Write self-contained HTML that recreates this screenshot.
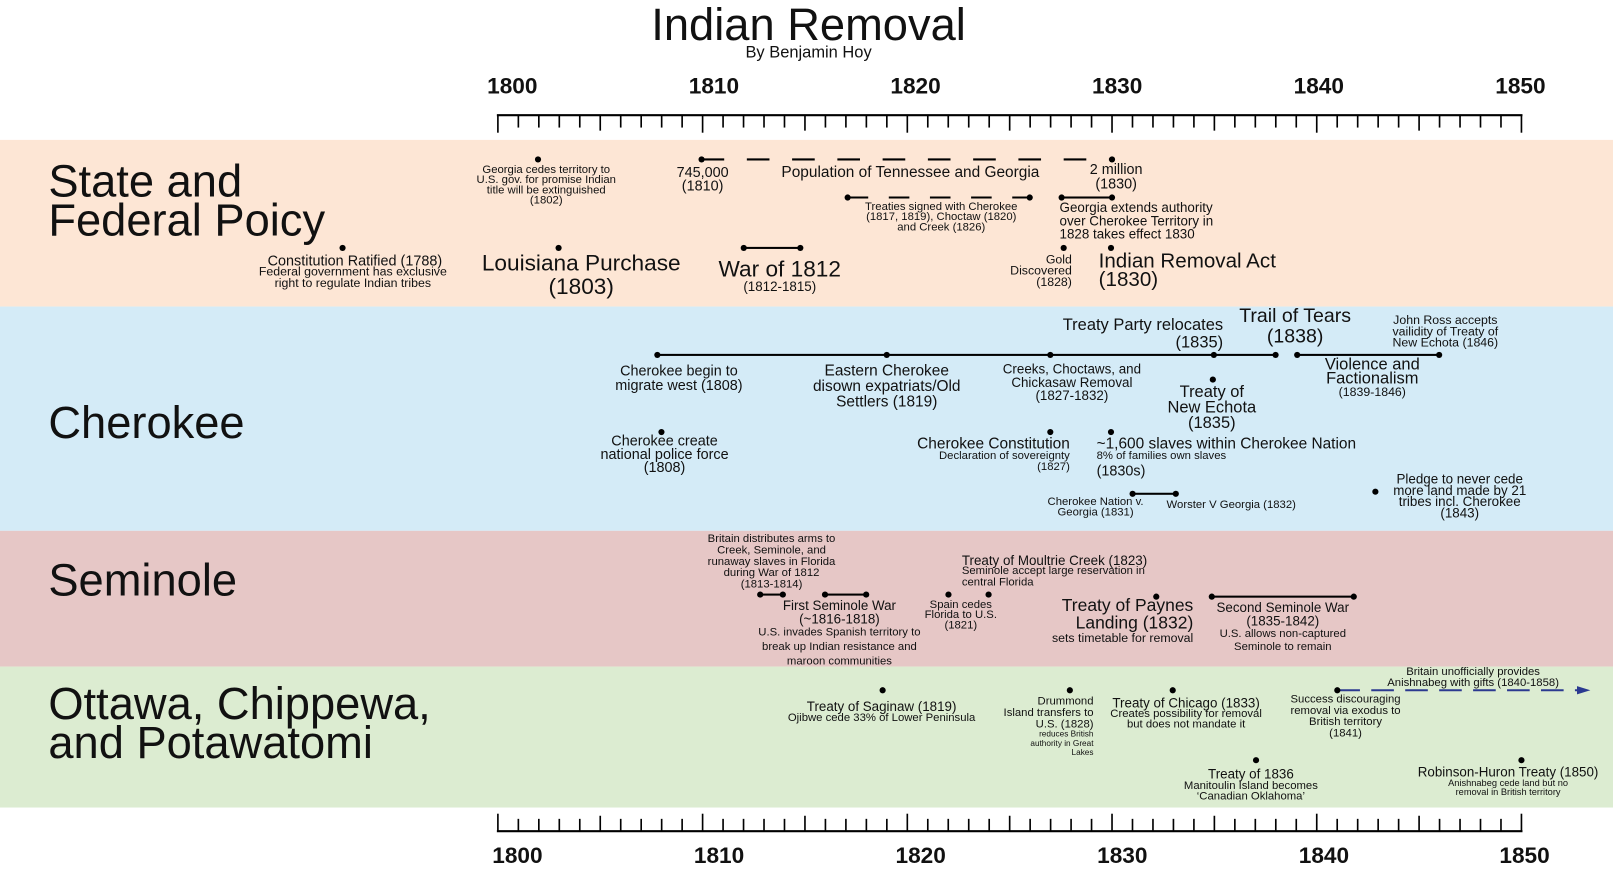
<!DOCTYPE html>
<html><head><meta charset="utf-8"><style>
html,body{margin:0;padding:0;width:1613px;height:873px;overflow:hidden;background:#fff}
#w{position:absolute;left:0;top:0;width:1568px;height:848px;transform:scale(1.02870);transform-origin:0 0;font-family:"Liberation Sans Narrow","Liberation Sans",sans-serif;color:#111}
.b{position:absolute;left:0;width:1568px}
.t{position:absolute;white-space:nowrap;line-height:1}
.c{transform:translateX(-50%);text-align:center}
.r{transform:translateX(-100%);text-align:right}
.h{font-family:"Liberation Sans",sans-serif;font-size:44px;line-height:38px;left:47px}
.d{position:absolute;width:6px;height:6px;border-radius:50%;background:#000;margin:-3px 0 0 -3px}
.ln{position:absolute;height:2px;background:#000;margin-top:-1px}
.yr{font-family:"Liberation Sans",sans-serif;font-weight:bold;font-size:22px}
</style></head><body><div id="w">
<div class="b" style="top:136px;height:162px;background:#fde6d5"></div>
<div class="b" style="top:298px;height:218px;background:#d4ebf7"></div>
<div class="b" style="top:516px;height:132px;background:#e6c7c6"></div>
<div class="b" style="top:648px;height:137px;background:#dcecd1"></div>

<div class="t c" style="left:786px;top:3px;font-family:'Liberation Sans',sans-serif;font-size:44px">Indian Removal</div>
<div class="t c" style="left:786px;top:44px;font-size:16px">By Benjamin Hoy</div>

<svg id="ax" width="1568" height="848" style="position:absolute;left:0;top:0"></svg>

<div class="t h" style="top:158px">State and<br>Federal Poicy</div>
<div class="t h" style="top:393px">Cherokee</div>
<div class="t h" style="top:546px">Seminole</div>
<div class="t h" style="top:666px">Ottawa, Chippewa,<br>and Potawatomi</div>

<!-- State -->
<div class="d" style="left:333px;top:241px"></div>
<div class="t c" style="left:345px;top:246px;font-size:14px">Constitution Ratified (1788)</div>
<div class="t c" style="left:343px;top:259px;font-size:12px;line-height:11px">Federal government has exclusive<br>right to regulate Indian tribes</div>
<div class="d" style="left:523px;top:155px"></div>
<div class="t c" style="left:531px;top:160px;font-size:11px;line-height:10px">Georgia cedes territory to<br>U.S. gov. for promise Indian<br>title will be extinguished<br>(1802)</div>
<svg width="1568" height="300" style="position:absolute;left:0;top:0">
<line x1="682" y1="155" x2="1081" y2="155" stroke="#000" stroke-width="2" stroke-dasharray="22,22"/>
<line x1="824" y1="192" x2="1001" y2="192" stroke="#000" stroke-width="2" stroke-dasharray="20,20"/>
</svg>
<div class="d" style="left:682px;top:155px"></div><div class="d" style="left:1081px;top:155px"></div>
<div class="t c" style="left:683px;top:161px;font-size:14px;line-height:13px">745,000<br>(1810)</div>
<div class="t c" style="left:885px;top:160px;font-size:15px">Population of Tennessee and Georgia</div>
<div class="t c" style="left:1085px;top:157px;font-size:14px;line-height:14px">2 million<br>(1830)</div>
<div class="d" style="left:824px;top:192px"></div><div class="d" style="left:1001px;top:192px"></div>
<div class="t c" style="left:915px;top:196px;font-size:11px;line-height:10px">Treaties signed with Cherokee<br>(1817, 1819), Choctaw (1820)<br>and Creek (1826)</div>
<div class="ln" style="left:1032px;top:192px;width:49px"></div>
<div class="d" style="left:1032px;top:192px"></div><div class="d" style="left:1081px;top:192px"></div>
<div class="t" style="left:1030px;top:195px;font-size:13px;line-height:13px">Georgia extends authority<br>over Cherokee Territory in<br>1828 takes effect 1830</div>
<div class="d" style="left:543px;top:241px"></div>
<div class="t c" style="left:565px;top:244px;font-size:22px;line-height:23px">Louisiana Purchase<br>(1803)</div>
<div class="ln" style="left:723px;top:241px;width:55px"></div>
<div class="d" style="left:723px;top:241px"></div><div class="d" style="left:778px;top:241px"></div>
<div class="t c" style="left:758px;top:251px;font-size:22px">War of 1812</div>
<div class="t c" style="left:758px;top:272px;font-size:13px">(1812-1815)</div>
<div class="d" style="left:1034px;top:241px"></div>
<div class="t r" style="left:1042px;top:247px;font-size:12px;line-height:11px">Gold<br>Discovered<br>(1828)</div>
<div class="d" style="left:1080px;top:241px"></div>
<div class="t" style="left:1068px;top:245px;font-size:20px;line-height:18px">Indian Removal Act<br>(1830)</div>

<!-- Cherokee -->
<div class="ln" style="left:639px;top:345px;width:601px"></div>
<div class="ln" style="left:1261px;top:345px;width:138px"></div>
<div class="d" style="left:639px;top:345px"></div><div class="d" style="left:862px;top:345px"></div><div class="d" style="left:1021px;top:345px"></div><div class="d" style="left:1180px;top:345px"></div><div class="d" style="left:1240px;top:345px"></div><div class="d" style="left:1261px;top:345px"></div><div class="d" style="left:1399px;top:345px"></div>
<div class="t r" style="left:1189px;top:308px;font-size:16px;line-height:17px">Treaty Party relocates<br>(1835)</div>
<div class="t c" style="left:1259px;top:298px;font-size:19px;line-height:20px">Trail of Tears<br>(1838)</div>
<div class="t c" style="left:1405px;top:306px;font-size:12px;line-height:11px">John Ross accepts<br>vailidity of Treaty of<br>New Echota (1846)</div>
<div class="t c" style="left:660px;top:353px;font-size:14px;line-height:14px">Cherokee begin to<br>migrate west (1808)</div>
<div class="t c" style="left:862px;top:353px;font-size:15px;line-height:15px">Eastern Cherokee<br>disown expatriats/Old<br>Settlers (1819)</div>
<div class="t c" style="left:1042px;top:352px;font-size:13px;line-height:13px">Creeks, Choctaws, and<br>Chickasaw Removal<br>(1827-1832)</div>
<div class="d" style="left:1179px;top:369px"></div>
<div class="t c" style="left:1178px;top:374px;font-size:16px;line-height:15px">Treaty of<br>New Echota<br>(1835)</div>
<div class="t c" style="left:1334px;top:348px;font-size:16px;line-height:14px">Violence and<br>Factionalism</div>
<div class="t c" style="left:1334px;top:375px;font-size:12px">(1839-1846)</div>
<div class="d" style="left:643px;top:420px"></div>
<div class="t c" style="left:646px;top:422px;font-size:14px;line-height:13px">Cherokee create<br>national police force<br>(1808)</div>
<div class="d" style="left:1021px;top:420px"></div>
<div class="t r" style="left:1040px;top:424px;font-size:15px">Cherokee Constitution</div>
<div class="t r" style="left:1040px;top:438px;font-size:11px;line-height:11px">Declaration of sovereignty<br>(1827)</div>
<div class="d" style="left:1080px;top:420px"></div>
<div class="t" style="left:1066px;top:424px;font-size:15px">~1,600 slaves within Cherokee Nation</div>
<div class="t" style="left:1066px;top:438px;font-size:11px">8% of families own slaves</div>
<div class="t" style="left:1066px;top:450px;font-size:14px">(1830s)</div>
<div class="ln" style="left:1101px;top:480px;width:42px"></div>
<div class="d" style="left:1101px;top:480px"></div><div class="d" style="left:1143px;top:480px"></div>
<div class="t c" style="left:1065px;top:483px;font-size:11px;line-height:10px">Cherokee Nation v.<br>Georgia (1831)</div>
<div class="t" style="left:1134px;top:486px;font-size:11px">Worster V Georgia (1832)</div>
<div class="d" style="left:1337px;top:478px"></div>
<div class="t c" style="left:1419px;top:460px;font-size:13px;line-height:11px">Pledge to never cede<br>more land made by 21<br>tribes incl. Cherokee<br>(1843)</div>

<!-- Seminole -->
<div class="t c" style="left:750px;top:519px;font-size:11px;line-height:11px">Britain distributes arms to<br>Creek, Seminole, and<br>runaway slaves in Florida<br>during War of 1812<br>(1813-1814)</div>
<div class="ln" style="left:739px;top:578px;width:22px"></div>
<div class="d" style="left:739px;top:578px"></div><div class="d" style="left:761px;top:578px"></div>
<div class="ln" style="left:802px;top:578px;width:40px"></div>
<div class="d" style="left:802px;top:578px"></div><div class="d" style="left:842px;top:578px"></div>
<div class="t c" style="left:816px;top:582px;font-size:13px;line-height:13px">First Seminole War<br>(~1816-1818)</div>
<div class="t c" style="left:816px;top:608px;font-size:11px;line-height:14px">U.S. invades Spanish territory to<br>break up Indian resistance and<br>maroon communities</div>
<div class="t" style="left:935px;top:538px;font-size:13px">Treaty of Moultrie Creek (1823)</div>
<div class="t" style="left:935px;top:550px;font-size:11px;line-height:11px">Seminole accept large reservation in<br>central Florida</div>
<div class="d" style="left:922px;top:578px"></div><div class="d" style="left:961px;top:578px"></div>
<div class="t c" style="left:934px;top:583px;font-size:11px;line-height:10px">Spain cedes<br>Florida to U.S.<br>(1821)</div>
<div class="d" style="left:1124px;top:580px"></div>
<div class="t r" style="left:1160px;top:580px;font-size:17px;line-height:17px">Treaty of Paynes<br>Landing (1832)</div>
<div class="t r" style="left:1160px;top:614px;font-size:12px">sets timetable for removal</div>
<div class="ln" style="left:1178px;top:580px;width:138px"></div>
<div class="d" style="left:1178px;top:580px"></div><div class="d" style="left:1316px;top:580px"></div>
<div class="t c" style="left:1247px;top:584px;font-size:13px;line-height:13px">Second Seminole War<br>(1835-1842)</div>
<div class="t c" style="left:1247px;top:610px;font-size:11px;line-height:13px">U.S. allows non-captured<br>Seminole to remain</div>

<!-- Ottawa -->
<div class="d" style="left:858px;top:671px"></div>
<div class="t c" style="left:857px;top:680px;font-size:13px">Treaty of Saginaw (1819)</div>
<div class="t c" style="left:857px;top:693px;font-size:11px">Ojibwe cede 33% of Lower Peninsula</div>
<div class="d" style="left:1040px;top:671px"></div>
<div class="t r" style="left:1063px;top:677px;font-size:11px;line-height:11px">Drummond<br>Island transfers to<br>U.S. (1828)</div>
<div class="t r" style="left:1063px;top:709px;font-size:8px;line-height:9px">reduces British<br>authority in Great<br>Lakes</div>
<div class="d" style="left:1140px;top:671px"></div>
<div class="t c" style="left:1153px;top:677px;font-size:13px">Treaty of Chicago (1833)</div>
<div class="t c" style="left:1153px;top:689px;font-size:11px;line-height:10px">Creates possibility for removal<br>but does not mandate it</div>
<svg width="1568" height="848" style="position:absolute;left:0;top:0">
<line x1="1300" y1="671" x2="1535" y2="671" stroke="#2b3990" stroke-width="2" stroke-dasharray="22,11"/>
<polygon points="1546,671 1533,667 1533,675" fill="#2b3990"/>
</svg>
<div class="d" style="left:1300px;top:671px"></div>
<div class="t c" style="left:1432px;top:648px;font-size:11px;line-height:11px">Britain unofficially provides<br>Anishnabeg with gifts (1840-1858)</div>
<div class="t c" style="left:1308px;top:675px;font-size:11px;line-height:11px">Success discouraging<br>removal via exodus to<br>British territory<br>(1841)</div>
<div class="d" style="left:1221px;top:739px"></div>
<div class="t c" style="left:1216px;top:746px;font-size:13px">Treaty of 1836</div>
<div class="t c" style="left:1216px;top:759px;font-size:11px;line-height:10px">Manitoulin Island becomes<br>‘Canadian Oklahoma’</div>
<div class="d" style="left:1479px;top:739px"></div>
<div class="t c" style="left:1466px;top:744px;font-size:13px">Robinson-Huron Treaty (1850)</div>
<div class="t c" style="left:1466px;top:757px;font-size:9px;line-height:9px">Anishnabeg cede land but no<br>removal in British territory</div>

<div class="t c yr" style="left:498px;top:73px">1800</div>
<div class="t c yr" style="left:694px;top:73px">1810</div>
<div class="t c yr" style="left:890px;top:73px">1820</div>
<div class="t c yr" style="left:1086px;top:73px">1830</div>
<div class="t c yr" style="left:1282px;top:73px">1840</div>
<div class="t c yr" style="left:1478px;top:73px">1850</div>
<div class="t c yr" style="left:503px;top:821px">1800</div>
<div class="t c yr" style="left:699px;top:821px">1810</div>
<div class="t c yr" style="left:895px;top:821px">1820</div>
<div class="t c yr" style="left:1091px;top:821px">1830</div>
<div class="t c yr" style="left:1287px;top:821px">1840</div>
<div class="t c yr" style="left:1482px;top:821px">1850</div>
</div>
<script>
var s=document.getElementById('ax'),h='';
h+='<line x1="483" y1="112" x2="1480" y2="112" stroke="#000" stroke-width="2"/>';
h+='<line x1="483" y1="808" x2="1480" y2="808" stroke="#000" stroke-width="2"/>';
for(var i=0;i<=50;i++){var x=484+19.9*i;var L=(i%10==0)?17:(i%5==0?15:12);
h+='<line x1="'+x+'" y1="112" x2="'+x+'" y2="'+(112+L)+'" stroke="#000" stroke-width="1.6"/>';
h+='<line x1="'+x+'" y1="808" x2="'+x+'" y2="'+(808-L)+'" stroke="#000" stroke-width="1.6"/>';}
s.innerHTML=h;
</script>
</body></html>
